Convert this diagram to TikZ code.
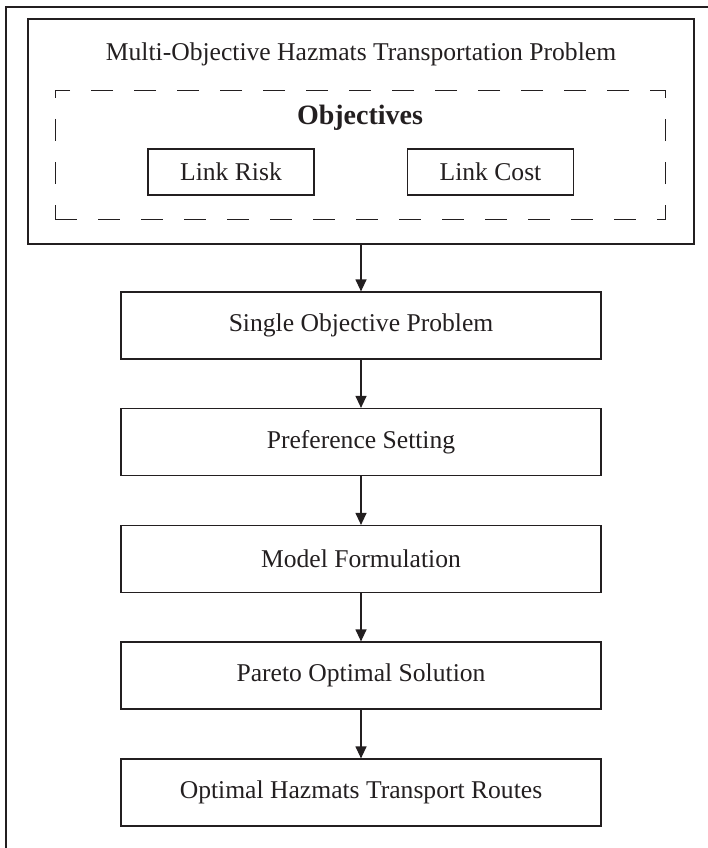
\documentclass[tikz,border=0pt]{standalone}
\usepackage{fontspec}
\setmainfont{Liberation Serif}
\usetikzlibrary{arrows.meta}
\definecolor{inkgray}{RGB}{35,31,32}
\tikzset{
  stepbox/.style={draw=inkgray, line width=1.2pt, minimum width=480pt, minimum height=67pt, inner sep=0pt},
  objbox/.style={draw=inkgray, line width=1.2pt, minimum width=166pt, minimum height=46pt, inner sep=0pt},
  flow/.style={draw=inkgray, line width=1.2pt, -{Triangle[length=12pt,width=11pt]}}
}
\begin{document}
\begin{tikzpicture}[x=1pt, y=-1pt, text=inkgray, font=\fontsize{25.6}{30}\selectfont]
        \useasboundingbox (0,0) rectangle (708,848);
        % Cornice esterna (solo lati superiore e sinistro)
        \draw[inkgray, line width=1.2pt] (6,848) -- (6,7) -- (708,7);

        % Problema multi-obiettivo
        \node[draw=inkgray, line width=1.5pt, minimum width=666pt, minimum height=225pt, inner sep=0pt] (prob) at (361,131.5) {};
        \node (probtitle) at (361,54) {Multi-Objective Hazmats Transportation Problem};

        % Obiettivi (riquadro tratteggiato)
        \node[draw=inkgray, line width=1pt, dash pattern=on 22pt off 21pt, minimum width=610pt, minimum height=128pt, inner sep=0pt] (objs) at (360,155) {};
        \node[font=\fontsize{28}{30}\selectfont\bfseries] (objtitle) at (360,118) {Objectives};
        \node[objbox] (risk) at (231,172) {Link Risk};
        \node[objbox] (cost) at (490.5,172) {Link Cost};

        % Passi della procedura
        \node[stepbox] (single) at (361,325.5) {Single Objective Problem};
        \node[stepbox] (pref) at (361,442) {Preference Setting};
        \node[stepbox] (model) at (361,559) {Model Formulation};
        \node[stepbox] (pareto) at (361,675.5) {Pareto Optimal Solution};
        \node[stepbox] (routes) at (361,792.5) {Optimal Hazmats Transport Routes};

        % Frecce
        \draw[flow] (prob) -- (single);
        \draw[flow] (single) -- (pref);
        \draw[flow] (pref) -- (model);
        \draw[flow] (model) -- (pareto);
        \draw[flow] (pareto) -- (routes);
\end{tikzpicture}
\end{document}
